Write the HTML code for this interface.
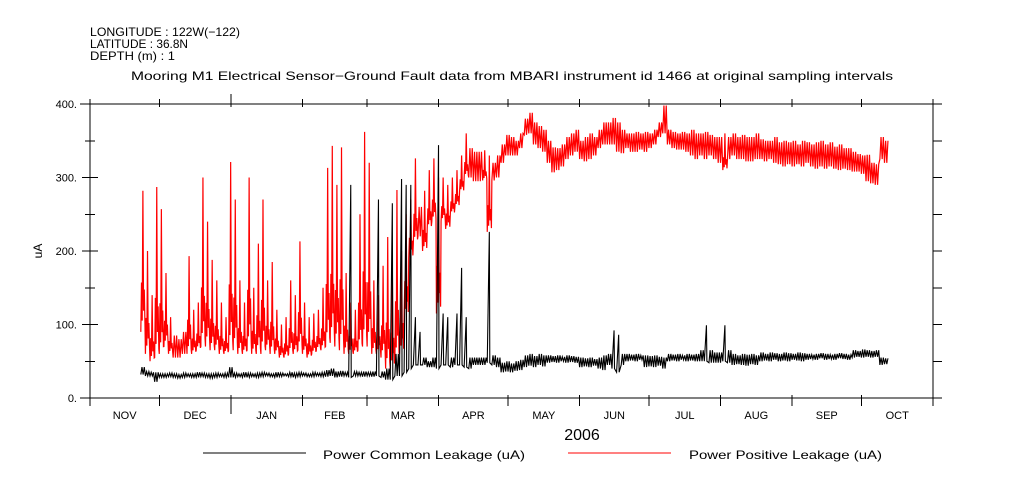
<!DOCTYPE html>
<html><head><meta charset="utf-8">
<style>
html,body{margin:0;padding:0;background:#fff;}
svg{display:block;font-family:"Liberation Sans",sans-serif;}
</style></head>
<body>
<svg id="chart" width="1009" height="504" viewBox="0 0 1009 504" xmlns="http://www.w3.org/2000/svg">
<rect width="1009" height="504" fill="#fff"/>
<g font-size="12" fill="#000">
<text x="90" y="36" textLength="150" lengthAdjust="spacingAndGlyphs">LONGITUDE : 122W(−122)</text>
<text x="90" y="48" textLength="98" lengthAdjust="spacingAndGlyphs">LATITUDE : 36.8N</text>
<text x="90" y="60" textLength="85" lengthAdjust="spacingAndGlyphs">DEPTH (m) : 1</text>
</g>
<text x="131" y="80" font-size="12" textLength="762" lengthAdjust="spacingAndGlyphs">Mooring M1 Electrical Sensor−Ground Fault data from MBARI instrument id 1466 at original sampling intervals</text>
<g id="axes" stroke="#000" stroke-width="1" fill="none"></g>
<g id="ylabels" font-size="11" text-anchor="end"></g>
<g id="xlabels" font-size="11" text-anchor="middle"></g>
<text transform="translate(42,251) rotate(-90)" font-size="12" text-anchor="middle">uA</text>
<text x="582" y="440" font-size="16" text-anchor="middle">2006</text>
<g id="series"></g>
<g>
<line x1="203" y1="453" x2="306" y2="453" stroke="#000" stroke-width="1"/>
<text x="323" y="459" font-size="12" textLength="202" lengthAdjust="spacingAndGlyphs">Power Common Leakage (uA)</text>
<line x1="568" y1="453" x2="671" y2="453" stroke="#f00" stroke-width="1"/>
<text x="689" y="459" font-size="12" textLength="193" lengthAdjust="spacingAndGlyphs">Power Positive Leakage (uA)</text>
</g>
</svg>
<script>
// data: 2-day bins, starting at day 22 after Nov 1 2005
var binStartDay = 22;
var binWidthDays = 2;
var monthLabels = ["NOV","DEC","JAN","FEB","MAR","APR","MAY","JUN","JUL","AUG","SEP","OCT"];
var monthStartDays = [0,30,61,92,120,151,181,212,242,273,304,334,365];
var yTickValues = [0,100,200,300,400];
var yTickLabels = ["0.","100.","200.","300.","400."];
var redLo = [90,60,50,55,60,70,60,55,55,60,60,60,65,70,70,65,65,60,60,65,65,60,60,65,60,60,60,65,60,60,55,55,60,60,65,60,55,60,65,65,70,75,70,65,60,60,60,65,70,70,60,60,55,40,40,50,60,110,190,210,220,200,230,240,115,240,230,250,260,280,300,300,295,295,296,226,296,300,320,330,330,330,340,358,360,345,340,335,320,307,310,315,325,330,335,325,322,325,330,340,345,345,345,335,333,340,335,335,338,335,340,345,355,360,345,340,338,338,335,330,325,330,325,330,325,320,310,325,330,325,325,322,322,325,325,322,325,320,318,315,318,315,318,315,320,315,312,315,312,315,312,310,312,310,308,308,305,295,292,290,325,320];
var redHi = [282,200,140,287,257,170,110,85,80,90,193,120,130,300,240,188,160,130,110,321,270,160,130,300,150,210,270,160,185,120,100,110,160,140,213,130,110,115,120,150,313,343,290,341,170,130,120,250,362,320,160,140,180,219,180,283,200,250,270,326,260,282,310,326,300,300,290,300,310,330,360,340,335,335,337,330,320,330,345,358,355,350,360,380,388,375,370,365,350,341,340,345,355,360,365,350,355,360,355,365,375,375,381,375,365,360,360,362,360,362,360,365,375,398,365,362,360,362,360,365,360,360,362,358,355,355,360,355,360,355,358,355,355,360,352,350,350,355,348,350,348,350,345,350,348,345,348,350,345,348,342,345,340,340,335,332,330,331,320,318,355,350];
var blackLo = [32,30,30,22,28, 28,29,28,27,28,29,28,28,29,28,27,28,29,28,28, 28,29,28,28,29,28,29,30,29,28,29,30,29,28,29,30,29,29,30,29, 29,30,28,29,30, 28, 30,30,29,30,29, 30,28,25,25,30,30,35,40,45,45,45,42,42,40,45,45,42,45,45,42, 40,45,45,45, 48,45,42, 35,36,35,37,38, 42,44,42,45,43, 48,49,48,50,48,49,48, 42,43,42,44, 40,38,45,40,35,45, 50,51,50,52, 42,43,42,44, 40, 50,51,50,52,50,51,50, 50,50,48,48,48,50,48, 45,46,45,44,46,45, 50,51,50,52,50,51,50,52,51,50, 52,53,52,54,52,53,52,54,53,52, 55,56,55,56,55,56, 45,46];
var blackHi = [42,36,35,35,33, 33,34,33,32,34,33,33,35,34,33,33,34,33,34,42, 34,33,35,34,33,34,35,34,33,35,34,33,35,34,35,34,33,35,34,35, 38,40,36,37,35, 290, 36,35,36,35,36, 270,36,40,265,60,298,290,290,110,90,55,50,55,344,115,110,55,115,177,110, 55,55,55,55, 226,58,55, 48,50,47,50,52, 58,60,57,60,58, 58,57,58,56,58,57,56, 55,54,55,53, 55,58,60,92,86,60, 60,59,60,58, 58,57,58,56, 55, 60,59,60,58,60,59,60, 65,99,65,62,62,99,65, 60,58,60,59,60,58, 62,60,62,61,60,62,61,60,62,61, 60,59,60,61,60,59,60,61,60,59, 65,64,66,65,64,65, 55,54];

var X0 = 90, X1 = 933, Y0 = 398, Y1 = 104, TOTAL_DAYS = 365, YMAX = 400;
function xScale(d){ return X0 + (X1 - X0) * d / TOTAL_DAYS; }
function yScale(v){ return Y0 - (Y0 - Y1) * v / YMAX; }
var NS = "http://www.w3.org/2000/svg";
function mk(tag, attrs, parent){ var e = document.createElementNS(NS, tag); for (var k in attrs) e.setAttribute(k, attrs[k]); parent.appendChild(e); return e; }

var axes = document.getElementById("axes");
var p = "M90," + Y1 + "V" + Y0 + "M" + X1 + "," + Y1 + "V" + Y0 + "M80," + Y0 + "H942M80," + Y1 + "H942";
for (var v = 0; v <= YMAX; v += 50) {
  var y = yScale(v);
  var major = (v % 100 === 0);
  p += "M" + (major ? 82 : 85) + "," + y + "H" + (major ? 98 : 95);
  p += "M" + X1 + "," + y + "H942";
}
for (var i = 0; i < monthStartDays.length; i++) {
  var x = xScale(monthStartDays[i]);
  var big = (monthStartDays[i] === 61);
  p += "M" + x + "," + (Y0 - 3) + "V" + (big ? Y0 + 16 : Y0 + 8);
  p += "M" + x + "," + (Y1 + 3) + "V" + (big ? Y1 - 10 : Y1 - 5);
}
var ap = mk("path", {d: p, "shape-rendering": "crispEdges"}, axes);



var yl = document.getElementById("ylabels");
for (var i = 0; i < yTickValues.length; i++) {
  var t = mk("text", {x: 77, y: yScale(yTickValues[i]) + 4}, yl);
  
  
  t.textContent = yTickLabels[i];
}
var xl = document.getElementById("xlabels");
for (var i = 0; i < monthLabels.length; i++) {
  var mid = (monthStartDays[i] + monthStartDays[i + 1]) / 2;
  var t = mk("text", {x: xScale(mid), y: 419}, xl);
  
  
  t.textContent = monthLabels[i];
}

function seriesPath(lo, hi, dense){
  var n = Math.min(lo.length, hi.length), d = "";
  for (var i = 0; i < n; i++) {
    var day = binStartDay + i * binWidthDays;
    var xa = xScale(day), xb = xScale(day + binWidthDays);
    var w = xb - xa, r = hi[i] - lo[i];
    var pts;
    if (r > 40 && dense) {
      pts = [[xa, lo[i]], [xa + w * 0.15, lo[i] + r * 0.35], [xa + w * 0.3, lo[i] + r * 0.08], [xa + w * 0.45, hi[i]], [xa + w * 0.6, lo[i] + r * 0.15], [xa + w * 0.75, lo[i] + r * 0.3], [xa + w * 0.9, lo[i] + r * 0.05]];
    } else if (r > 40) {
      pts = [[xa, lo[i]], [xa + w * 0.45, hi[i]], [xa + w * 0.55, lo[i]]];
    } else {
      pts = [[xa, lo[i]], [xa + w * 0.25, hi[i]], [xa + w * 0.5, lo[i]], [xa + w * 0.75, hi[i]]];
    }
    for (var j = 0; j < pts.length; j++) d += (d === "" ? "M" : "L") + pts[j][0].toFixed(2) + "," + yScale(pts[j][1]).toFixed(2);
  }
  return d;
}
var sg = document.getElementById("series");
var rp = mk("path", {d: seriesPath(redLo, redHi, true), stroke: "#f00", "stroke-width": 1.2, fill: "none"}, sg);


var bp = mk("path", {d: seriesPath(blackLo, blackHi, false), stroke: "#000", "stroke-width": 1.1, fill: "none"}, sg);


</script>
</body></html>
